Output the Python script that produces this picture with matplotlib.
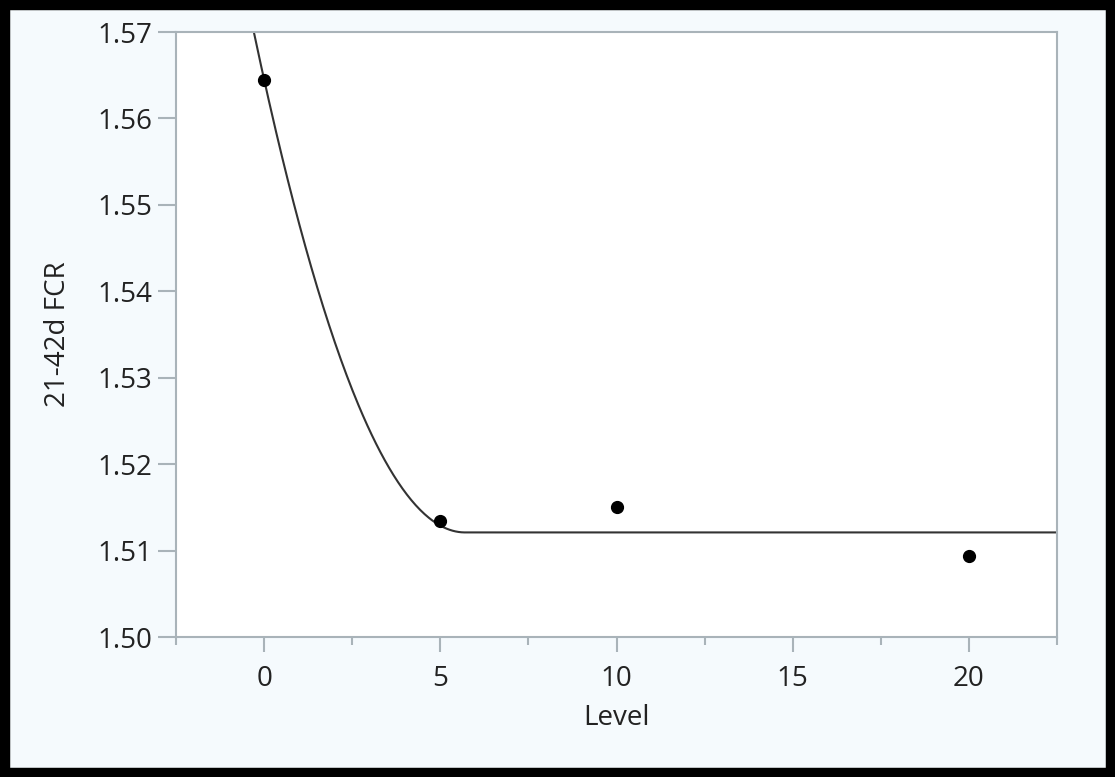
import numpy as np
import matplotlib
matplotlib.use('Agg')
import matplotlib.pyplot as plt
from matplotlib.patches import Rectangle
from matplotlib.ticker import MultipleLocator

# observed means
level = [0, 5, 10, 20]
fcr = [1.5644, 1.5134, 1.5150, 1.5094]

# quadratic-plateau fit
plateau = 1.5121
breakpoint = 5.7
curvature = 0.001613

bg = '#f5fafd'
axis_col = '#a9b3b9'
text_col = '#222222'

plt.rcParams['font.family'] = ['Open Sans', 'DejaVu Sans']

fig = plt.figure(figsize=[11.15, 7.77], dpi=100, facecolor=bg)
ax = fig.add_axes([176/1115, 1 - 637/777, 881/1115, 605/777])
ax.set_facecolor('white')

x = np.linspace(-2.5, 22.5, 600)
y = np.where(x < breakpoint, plateau + curvature * (x - breakpoint)**2, plateau)
ax.plot(x, y, color='#333333', lw=1.5, zorder=2)
ax.plot(level, fcr, 'o', color='black', ms=8.5, zorder=3)

ax.set_xlim(-2.5, 22.5)
ax.set_ylim(1.50, 1.57)
ax.xaxis.set_major_locator(MultipleLocator(5))
ax.xaxis.set_minor_locator(MultipleLocator(2.5))
ax.yaxis.set_major_locator(MultipleLocator(0.01))
ax.yaxis.set_major_formatter(matplotlib.ticker.FormatStrFormatter('%.2f'))

for s in ax.spines.values():
    s.set_color(axis_col)
    s.set_linewidth(1.5)
ax.tick_params(axis='both', which='both', color=axis_col, width=1.5, labelcolor=text_col, labelsize=20)
ax.tick_params(axis='y', which='major', length=13, pad=4)
ax.tick_params(axis='x', which='major', length=11, pad=9)
ax.tick_params(axis='x', which='minor', length=6)

ax.set_xlabel('Level', fontsize=20, color=text_col, labelpad=8)
ax.set_ylabel('21-42d FCR', fontsize=20, color=text_col, labelpad=18)

# black frame around the picture
fig.patches.append(Rectangle((0, 0), 1, 1, transform=fig.transFigure, fill=False,
                             edgecolor='black', lw=14, zorder=10))

fig.savefig('out.png', dpi=100, facecolor=bg)
